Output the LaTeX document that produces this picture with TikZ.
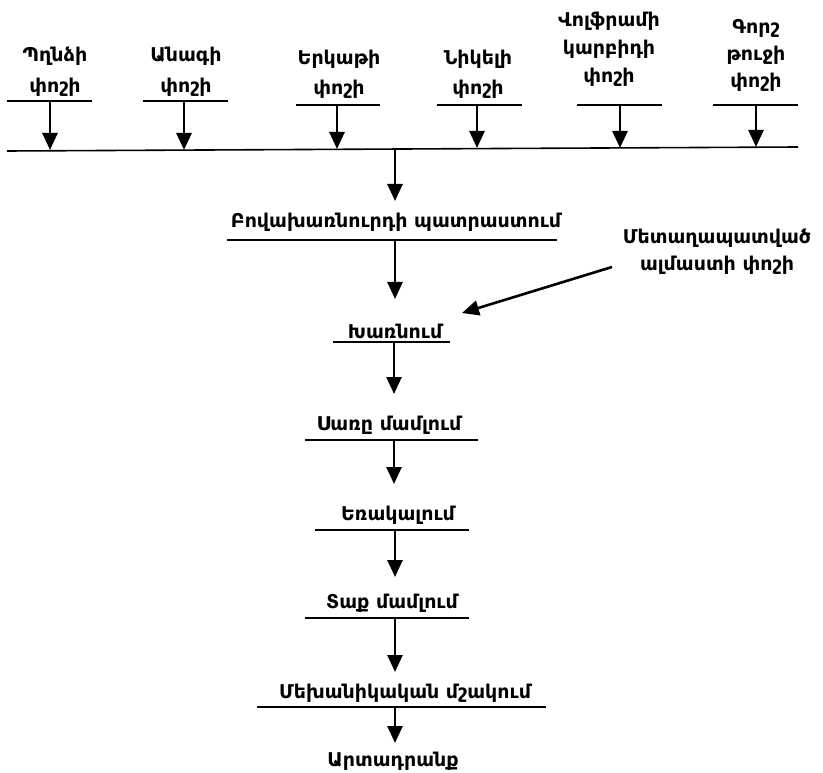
\documentclass[tikz,border=0pt]{standalone}
\usepackage{fontspec}
\setmainfont{DejaVu Sans}
\usetikzlibrary{arrows.meta}
\begin{document}
\begin{tikzpicture}[x=1pt,y=-1pt,
  lbl/.style={font=\fontsize{19}{#1}\selectfont\bfseries, align=center, inner sep=0pt, anchor=base},
  lbl/.default=30,
  uline/.style={line width=1.6pt},
  flow/.style={line width=2.6pt, -{Triangle[width=15pt,length=17pt]}}]
\useasboundingbox (0,0) rectangle (823,773);
% top inputs (anchor = baseline of last line)
\node[lbl=31] (t1) at (55,93) {Պղնձի\\փոշի};
\node[lbl=31] (t2) at (186,93) {Անագի\\փոշի};
\node[lbl=30] (t3) at (339,95) {Երկաթի\\փոշի};
\node[lbl=30] (t4) at (478,95) {Նիկելի\\փոշի};
\node[lbl=28] (t5) at (609,83) {Վոլֆրամի\\կարբիդի\\փոշի};
\node[lbl=27] (t6) at (756,88) {Գորշ\\թուջի\\փոշի};
% underlines
\draw[uline] (7,101) -- (92,101);
\draw[uline] (143,101) -- (228,101);
\draw[uline] (296,105) -- (380,105);
\draw[uline] (437,105) -- (522,105);
\draw[uline] (577,105) -- (662,105);
\draw[uline] (713,105) -- (798,105);
\coordinate (a1) at (50,101); \coordinate (b1) at (50,150);
\coordinate (a2) at (184,101); \coordinate (b2) at (184,150);
\coordinate (a3) at (337,105); \coordinate (b3) at (337,149);
\coordinate (a4) at (477,105); \coordinate (b4) at (477,148);
\coordinate (a5) at (620,105); \coordinate (b5) at (620,148);
\coordinate (a6) at (756,105); \coordinate (b6) at (756,147);
\foreach \i in {1,...,6} \draw[flow] (a\i) -- (b\i);
% main collecting line
\coordinate (mL) at (7,151); \coordinate (mR) at (798,147);
\draw[uline] (mL) -- (mR);
\coordinate (m0) at (395,149);
% chain
\node[lbl] (s1) at (396,228) {Բովախառնուրդի պատրաստում};
\draw[uline] (227,240) -- (557,240);
\node[lbl] (s2) at (395,338) {Խառնում};
\draw[uline] (333,342) -- (450,342);
\node[lbl] (s3) at (389,430) {Սառը մամլում};
\draw[uline] (305,440) -- (478,440);
\node[lbl] (s4) at (398,520) {Եռակալում};
\draw[uline] (315,530) -- (469,530);
\node[lbl] (s5) at (392,608) {Տաք մամլում};
\draw[uline] (305,618) -- (469,618);
\node[lbl] (s6) at (405,698) {Մեխանիկական մշակում};
\draw[uline] (257,707) -- (546,707);
\node[lbl] (s7) at (393,766) {Արտադրանք};
% side input
\node[lbl=27] (side) at (717,270) {Մետաղապատված\\ալմաստի փոշի};
\coordinate (sideA) at (612,267);
\coordinate (sideB) at (462,313);
% arrow ends
\coordinate (s1b) at (395,240); \coordinate (s1t) at (395,201);
\coordinate (s2b) at (394,342); \coordinate (s2t) at (395,299);
\coordinate (s3b) at (394,440); \coordinate (s3t) at (394,394);
\coordinate (s4b) at (395,530); \coordinate (s4t) at (394,484);
\coordinate (s5b) at (395,618); \coordinate (s5t) at (395,577);
\coordinate (s6b) at (395,707); \coordinate (s6t) at (395,672);
\coordinate (s7t) at (395,743);
% arrows
\draw[flow] (m0) -- (s1t);
\draw[flow] (s1b) -- (s2t);
\draw[flow] (sideA) -- (sideB);
\draw[flow] (s2b) -- (s3t);
\draw[flow] (s3b) -- (s4t);
\draw[flow] (s4b) -- (s5t);
\draw[flow] (s5b) -- (s6t);
\draw[flow] (s6b) -- (s7t);
\end{tikzpicture}
\end{document}
